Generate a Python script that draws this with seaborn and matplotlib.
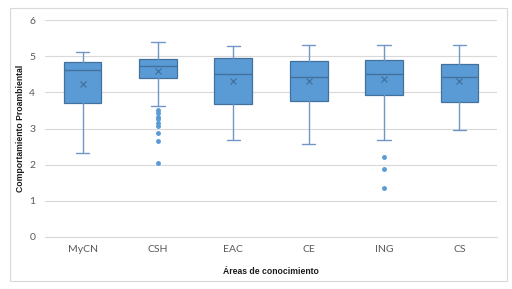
import matplotlib
matplotlib.use("Agg")
import matplotlib.pyplot as plt
import seaborn as sns
from matplotlib.patches import Rectangle

categories = ["MyCN", "CSH", "EAC", "CE", "ING", "CS"]
whisker_low = [2.32, 3.62, 2.67, 2.56, 2.67, 2.97]
q1 = [3.70, 4.39, 3.67, 3.77, 3.93, 3.72]
median = [4.61, 4.72, 4.52, 4.42, 4.51, 4.42]
q3 = [4.83, 4.92, 4.94, 4.88, 4.90, 4.77]
whisker_high = [5.12, 5.39, 5.27, 5.32, 5.30, 5.30]
means = [4.23, 4.59, 4.30, 4.30, 4.36, 4.30]
outliers = [[], [3.50, 3.42, 3.33, 3.25, 3.16, 3.07, 2.87, 2.65, 2.05], [], [], [2.22, 1.88, 1.35], []]
yticks = [0, 1, 2, 3, 4, 5, 6]

sns.set_theme(style="white")
plt.rcParams['font.family'] = ['Lato', 'DejaVu Sans']

fig = plt.figure(figsize=(5.12, 2.89), dpi=100)
ax = fig.add_axes([45/512, 1-237/289, (497-45)/512, (237-20)/289])

stats = []
for i, c in enumerate(categories):
    stats.append(dict(label=c, whislo=whisker_low[i], q1=q1[i], med=median[i],
                      q3=q3[i], whishi=whisker_high[i], mean=means[i], fliers=outliers[i]))

blue = "#5B9BD5"
dark = "#41719C"
ax.bxp(stats, positions=range(len(categories)), widths=0.5, patch_artist=True,
       showmeans=True, showfliers=True,
       boxprops=dict(facecolor=blue, edgecolor=dark, linewidth=0.9),
       medianprops=dict(color=dark, linewidth=1.0),
       whiskerprops=dict(color="#7196C8", linewidth=1.0),
       capprops=dict(color="#7196C8", linewidth=1.0),
       meanprops=dict(marker="x", markeredgecolor=dark, markersize=5, markeredgewidth=0.9),
       flierprops=dict(marker="o", markerfacecolor=blue, markeredgecolor=blue, markersize=2.5),
       capwidths=0.18, zorder=3)

ax.set_xlim(-0.5, len(categories) - 0.5)
ax.set_ylim(0, 6)
ax.set_yticks(yticks)
ax.set_yticklabels([str(t) for t in yticks])
ax.yaxis.grid(True, color="#D9D9D9", linewidth=0.8, zorder=0)
ax.set_axisbelow(True)
for s in ["top", "right", "left"]:
    ax.spines[s].set_visible(False)
ax.spines["bottom"].set_color("#D9D9D9")
ax.spines["bottom"].set_linewidth(0.8)
ax.tick_params(axis="both", length=0, labelsize=7.5, colors="#595959")
ax.tick_params(axis="y", pad=7)
ax.tick_params(axis="x", pad=6)
lab_font = dict(family=["Liberation Sans", "DejaVu Sans"], size=6.2, weight="bold", color="#1a1a1a")
ax.set_xlabel("Áreas de conocimiento", fontdict=lab_font, labelpad=9)
ax.set_ylabel("Comportamiento Proambiental", fontdict=lab_font, labelpad=3)

fig.patches.append(Rectangle((10/512, 8/289), 497/512, 273/289, transform=fig.transFigure,
                             fill=False, edgecolor="#D9D9D9", linewidth=0.8))

fig.savefig("out.png", dpi=100)
